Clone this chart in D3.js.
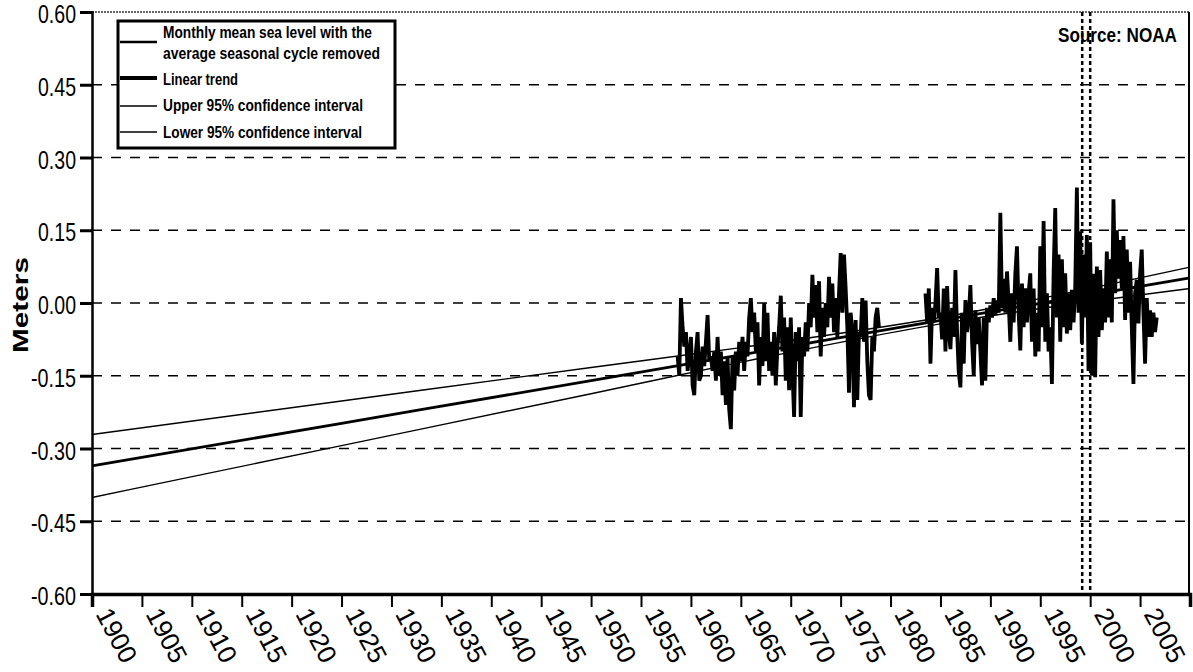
<!DOCTYPE html>
<html>
<head>
<meta charset="utf-8">
<script src="https://cdn.jsdelivr.net/npm/d3@7"></script>
<style>
  body { margin: 0; background: #fff; }
  svg text { font-family: "Liberation Sans", Arial, sans-serif; fill: #000; }
</style>
</head>
<body>
<svg id="chart" width="1193" height="672"></svg>
<script>
// axis values
const yTicks = [0.60, 0.45, 0.30, 0.15, 0.00, -0.15, -0.30, -0.45, -0.60];
const yTickLabels = ['0.60', '0.45', '0.30', '0.15', '0.00', '-0.15', '-0.30', '-0.45', '-0.60'];
const xTicks = [1900, 1905, 1910, 1915, 1920, 1925, 1930, 1935, 1940, 1945, 1950,
  1955, 1960, 1965, 1970, 1975, 1980, 1985, 1990, 1995, 2000, 2005];

// linear trend and 95% confidence lines, read at a few years
const trendYears = [1900, 1925, 1950, 1965, 1985, 2010];
const trendValues = [-0.336, -0.248, -0.160, -0.107, -0.036, 0.052];
const upperValues = [-0.271, -0.202, -0.133, -0.092, -0.030, 0.074];
const lowerValues = [-0.401, -0.294, -0.187, -0.122, -0.043, 0.030];

// dotted marker lines
const markerYears = [1999.2, 2000.0];

// monthly mean sea level, read every two months
const stepYears = 1 / 6;
const seg1Start = 1958.67;
const seg1Values = [
  -0.11, -0.15,
  0.01, -0.05, -0.09, -0.06, -0.14, -0.11,      // 1959
  -0.07, -0.17, -0.19, -0.10, -0.06, -0.16,     // 1960
  -0.15, -0.09, -0.13, -0.08, -0.025, -0.12,
  -0.11, -0.14, -0.10, -0.16, -0.07, -0.15,
  -0.10, -0.19, -0.12, -0.21, -0.11, -0.22,
  -0.26, -0.11, -0.18, -0.10, -0.15, -0.08,     // 1964
  -0.12, -0.07, -0.14, -0.08, -0.11, -0.03,
  0.01, -0.06, -0.02, -0.10, -0.04, -0.17,
  -0.07, -0.13, 0.00, -0.12, -0.02, -0.14,
  -0.08, -0.15, -0.06, -0.17, -0.09, -0.05,
  0.015, -0.10, -0.03, -0.16, -0.05, -0.18,     // 1969
  -0.03, -0.14, -0.235, -0.06, -0.12, -0.05,
  -0.235, -0.07, -0.11, -0.04, -0.10, 0.00,
  -0.05, 0.058, -0.03, 0.037, -0.06, 0.045,
  -0.11, -0.01, -0.07, 0.00, -0.05, 0.054,
  -0.03, 0.04, -0.06, 0.01, -0.07, 0.02,        // 1974
  0.103, -0.02, 0.10, 0.03, -0.05, -0.185,
  -0.02, -0.06, -0.215, -0.035, -0.20, -0.06,
  -0.07, 0.01, -0.08, 0.005, -0.12, -0.19,
  -0.20, -0.07, -0.10, -0.03, -0.01, -0.05      // 1978
];
const seg2Start = 1983.5;
const seg2Values = [
  0.02, -0.04, 0.03,
  -0.125, -0.01, -0.04, 0.00, 0.072, -0.03,     // 1984
  -0.02, -0.075, 0.03, -0.10, 0.035, -0.06,
  -0.095, -0.01, -0.07, 0.068, -0.06, -0.143,
  -0.174, -0.02, -0.125, 0.006, -0.06, -0.03,
  0.037, -0.08, -0.15, -0.015, -0.085, -0.03,
  -0.10, -0.17, -0.03, -0.16, -0.01, -0.04,     // 1989
  -0.005, -0.03, 0.01, -0.025, 0.005, -0.02,
  0.186, -0.01, 0.05, -0.02, 0.065, 0.00,
  -0.08, 0.02, -0.04, 0.06, 0.117, -0.02,
  -0.098, 0.04, -0.05, 0.03, -0.04, 0.02,
  0.061, -0.08, 0.03, -0.11, -0.02, -0.10,      // 1994
  0.117, -0.05, 0.169, -0.08, 0.02, -0.10,
  -0.05, -0.167, 0.06, 0.196, -0.03, 0.10,
  -0.08, 0.09, -0.05, 0.061, -0.063, 0.02,
  -0.056, 0.027, -0.04, 0.03, 0.238, -0.02,
  0.148, -0.084, 0.10, -0.03, 0.14, -0.14,      // 1999
  0.125, -0.15, 0.06, -0.153, 0.075, -0.07,
  0.068, -0.056, 0.03, -0.04, 0.106, -0.03,
  0.09, -0.04, 0.214, 0.02, 0.15, 0.05,
  0.13, 0.03, 0.138, -0.035, 0.11, -0.02,
  0.085, -0.05, -0.167, 0.02, 0.048, -0.042,    // 2004
  0.06, 0.11, -0.02, -0.125, 0.01, -0.07,
  -0.015, -0.07, -0.02, -0.06, -0.03
];

const legendLabels = [
  ['Monthly mean sea level with the', 'average seasonal cycle removed'],
  ['Linear trend'],
  ['Upper 95% confidence interval'],
  ['Lower 95% confidence interval']
];

const svg = d3.select('#chart');
const plotLeft = 92, plotRight = 1190, plotTop = 12, plotBottom = 594;

const x = d3.scaleLinear().domain([1900, 2010]).range([plotLeft, plotRight]);
const y = d3.scaleLinear().domain([-0.6, 0.6]).range([plotBottom, plotTop]);

// dashed grid
svg.append('g')
  .selectAll('line')
  .data(yTicks.filter(d => Math.abs(d) < 0.6))
  .enter()
  .append('line')
  .attr('x1', plotLeft).attr('x2', plotRight)
  .attr('y1', d => y(d)).attr('y2', d => y(d))
  .attr('stroke', '#000')
  .attr('stroke-width', 1.5)
  .attr('stroke-dasharray', '10,9');

// top dotted frame and right border
svg.append('line')
  .attr('x1', plotLeft).attr('x2', plotRight).attr('y1', plotTop).attr('y2', plotTop)
  .attr('stroke', '#333').attr('stroke-width', 1.5).attr('stroke-dasharray', '2,1');
svg.append('line')
  .attr('x1', plotRight - 1).attr('x2', plotRight - 1).attr('y1', plotTop).attr('y2', plotBottom)
  .attr('stroke', '#000').attr('stroke-width', 2);

// source (drawn before the markers, which cross it)
svg.append('text')
  .attr('x', 1058).attr('y', 42)
  .attr('textLength', 119)
  .attr('lengthAdjust', 'spacingAndGlyphs')
  .style('font-weight', 'bold')
  .style('font-size', '21px')
  .text('Source: NOAA');

// vertical dotted markers
svg.append('g')
  .selectAll('line')
  .data(markerYears)
  .enter()
  .append('line')
  .attr('x1', d => x(d)).attr('x2', d => x(d))
  .attr('y1', plotTop).attr('y2', plotBottom)
  .attr('stroke', '#000')
  .attr('stroke-width', 2.5)
  .attr('stroke-dasharray', '4,3');

// monthly data
const line = d3.line()
  .x(d => x(d[0]))
  .y(d => y(d[1]));

function toPoints(start, values) {
  return values.map((v, i) => [start + i * stepYears, v]);
}

[toPoints(seg1Start, seg1Values), toPoints(seg2Start, seg2Values)].forEach(seg => {
  svg.append('path')
    .datum(seg)
    .attr('d', line)
    .attr('fill', 'none')
    .attr('stroke', '#000')
    .attr('stroke-width', 3.8)
    .attr('stroke-linejoin', 'bevel');
});

// trend and confidence lines
const smooth = d3.line()
  .curve(d3.curveMonotoneX)
  .x(d => x(d[0]))
  .y(d => y(d[1]));
[[upperValues, 1.4], [lowerValues, 1.4], [trendValues, 2.8]].forEach(([vals, w]) => {
  svg.append('path')
    .datum(trendYears.map((yr, i) => [yr, vals[i]]))
    .attr('d', smooth)
    .attr('fill', 'none')
    .attr('stroke', '#000')
    .attr('stroke-width', w);
});

// y axis
const yAxis = svg.append('g')
  .attr('transform', `translate(${plotLeft},0)`)
  .call(d3.axisLeft(y).tickValues(yTicks).tickSize(12).tickPadding(4)
    .tickFormat((d, i) => yTickLabels[i]));
yAxis.select('.domain').attr('stroke-width', 2.5);
yAxis.selectAll('.tick line').attr('stroke-width', 3);
yAxis.selectAll('.tick text')
  .style('font-size', '25px')
  .attr('dy', '0.42em')
  .attr('textLength', d => d < 0 ? 45 : 38)
  .attr('lengthAdjust', 'spacingAndGlyphs');

// x axis
const xAxis = svg.append('g')
  .attr('transform', `translate(0,${plotBottom})`)
  .call(d3.axisBottom(x).tickValues(xTicks).tickSize(13).tickFormat(d3.format('d')));
xAxis.select('.domain').attr('stroke-width', 3.5);
xAxis.selectAll('.tick line').attr('stroke-width', 2);
xAxis.selectAll('.tick text')
  .style('font-size', '26px')
  .attr('text-anchor', 'start')
  .attr('x', 19)
  .attr('y', 7)
  .attr('dy', 0)
  .attr('transform', 'rotate(62)');

// axis title
svg.append('text')
  .attr('transform', 'translate(28,305) rotate(-90)')
  .attr('text-anchor', 'middle')
  .attr('textLength', 96)
  .attr('lengthAdjust', 'spacingAndGlyphs')
  .style('font-weight', 'bold')
  .style('font-size', '22px')
  .text('Meters');

// legend
const legend = svg.append('g');
legend.append('rect')
  .attr('x', 118).attr('y', 21).attr('width', 277).attr('height', 127)
  .attr('fill', '#fff').attr('stroke', '#000').attr('stroke-width', 3);

const sampleY = [42, 78, 106, 132];
const sampleW = [2.5, 4, 1.4, 1.4];
const textY = [[38, 59], [85], [111], [138]];
const textLen = [[209, 217], [75], [200], [199]];
legendLabels.forEach((lines, i) => {
  legend.append('line')
    .attr('x1', 120).attr('x2', 157)
    .attr('y1', sampleY[i]).attr('y2', sampleY[i])
    .attr('stroke', '#000').attr('stroke-width', sampleW[i]);
  lines.forEach((t, j) => {
    legend.append('text')
      .attr('x', 163).attr('y', textY[i][j])
      .attr('textLength', textLen[i][j])
      .attr('lengthAdjust', 'spacingAndGlyphs')
      .style('font-size', '16px')
      .style('font-weight', 'bold')
      .text(t);
  });
});
</script>
</body>
</html>
